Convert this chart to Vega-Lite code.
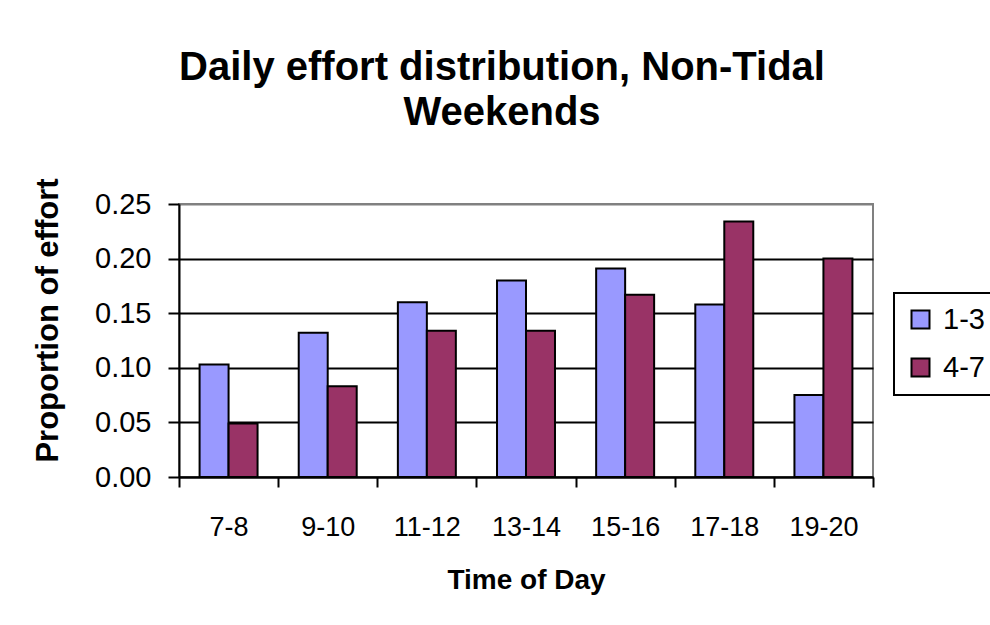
{
  "$schema": "https://vega.github.io/schema/vega-lite/v6.json",
  "autosize": {"type": "none"},
  "width": 694,
  "height": 273,
  "padding": {"left": 179, "top": 204, "right": 117, "bottom": 148},
  "background": "white",
  "title": {
    "text": ["Daily effort distribution, Non-Tidal", "Weekends"],
    "font": "Liberation Sans",
    "fontSize": 40,
    "fontWeight": "bold",
    "color": "black",
    "anchor": "middle",
    "dx": -24,
    "offset": 45,
    "lineHeight": 45
  },
  "data": {
    "values": [
      {"time": "7-8", "group": "1-3", "value": 0.103},
      {"time": "7-8", "group": "4-7", "value": 0.049},
      {"time": "9-10", "group": "1-3", "value": 0.132},
      {"time": "9-10", "group": "4-7", "value": 0.083},
      {"time": "11-12", "group": "1-3", "value": 0.160},
      {"time": "11-12", "group": "4-7", "value": 0.134},
      {"time": "13-14", "group": "1-3", "value": 0.180},
      {"time": "13-14", "group": "4-7", "value": 0.134},
      {"time": "15-16", "group": "1-3", "value": 0.191},
      {"time": "15-16", "group": "4-7", "value": 0.167},
      {"time": "17-18", "group": "1-3", "value": 0.158},
      {"time": "17-18", "group": "4-7", "value": 0.234},
      {"time": "19-20", "group": "1-3", "value": 0.075},
      {"time": "19-20", "group": "4-7", "value": 0.200}
    ]
  },
  "mark": {"type": "bar", "stroke": "black", "strokeWidth": 2},
  "encoding": {
    "x": {
      "field": "time",
      "type": "nominal",
      "sort": ["7-8", "9-10", "11-12", "13-14", "15-16", "17-18", "19-20"],
      "scale": {"paddingInner": 0, "paddingOuter": 0},
      "axis": {
        "title": "Time of Day",
        "titleFont": "Liberation Sans",
        "titleFontSize": 28,
        "titleFontWeight": "bold",
        "titleColor": "black",
        "titlePadding": 26,
        "labelFont": "Liberation Sans",
        "labelFontSize": 27,
        "labelColor": "black",
        "labelAngle": 0,
        "labelPadding": 27,
        "tickBand": "extent",
        "tickSize": 10,
        "tickColor": "black",
        "tickWidth": 2,
        "domainColor": "black",
        "domainWidth": 2,
        "grid": false
      }
    },
    "xOffset": {
      "field": "group",
      "type": "nominal",
      "scale": {"paddingInner": 0, "paddingOuter": 0.71}
    },
    "y": {
      "field": "value",
      "type": "quantitative",
      "scale": {"domain": [0, 0.25], "nice": false},
      "axis": {
        "title": "Proportion of effort",
        "titleFont": "Liberation Sans",
        "titleFontSize": 31,
        "titleFontWeight": "bold",
        "titleColor": "black",
        "titlePadding": 30,
        "titleY": 116,
        "labelFont": "Liberation Sans",
        "labelFontSize": 29,
        "labelColor": "black",
        "labelPadding": 17,
        "values": [0, 0.05, 0.1, 0.15, 0.2, 0.25],
        "format": ".2f",
        "tickSize": 11,
        "tickColor": "black",
        "tickWidth": 2,
        "domainColor": "black",
        "domainWidth": 2,
        "grid": true,
        "gridColor": {"condition": {"test": "datum.value >= 0.25", "value": "#808080"}, "value": "black"},
        "gridWidth": 2
      }
    },
    "color": {
      "field": "group",
      "type": "nominal",
      "scale": {"domain": ["1-3", "4-7"], "range": ["#9999FF", "#993366"]},
      "legend": {
        "title": null,
        "orient": "none",
        "legendX": 715,
        "legendY": 89,
        "strokeColor": "black",
        "padding": 12,
        "symbolType": "square",
        "symbolSize": 324,
        "symbolStrokeColor": "black",
        "symbolStrokeWidth": 2,
        "symbolOpacity": 1,
        "labelFont": "Liberation Sans",
        "labelFontSize": 29,
        "labelColor": "black",
        "labelOffset": 8,
        "rowPadding": 18
      }
    }
  },
  "config": {
    "view": {"stroke": "#808080", "strokeWidth": 2},
    "legend": {"strokeWidth": 2}
  }
}
